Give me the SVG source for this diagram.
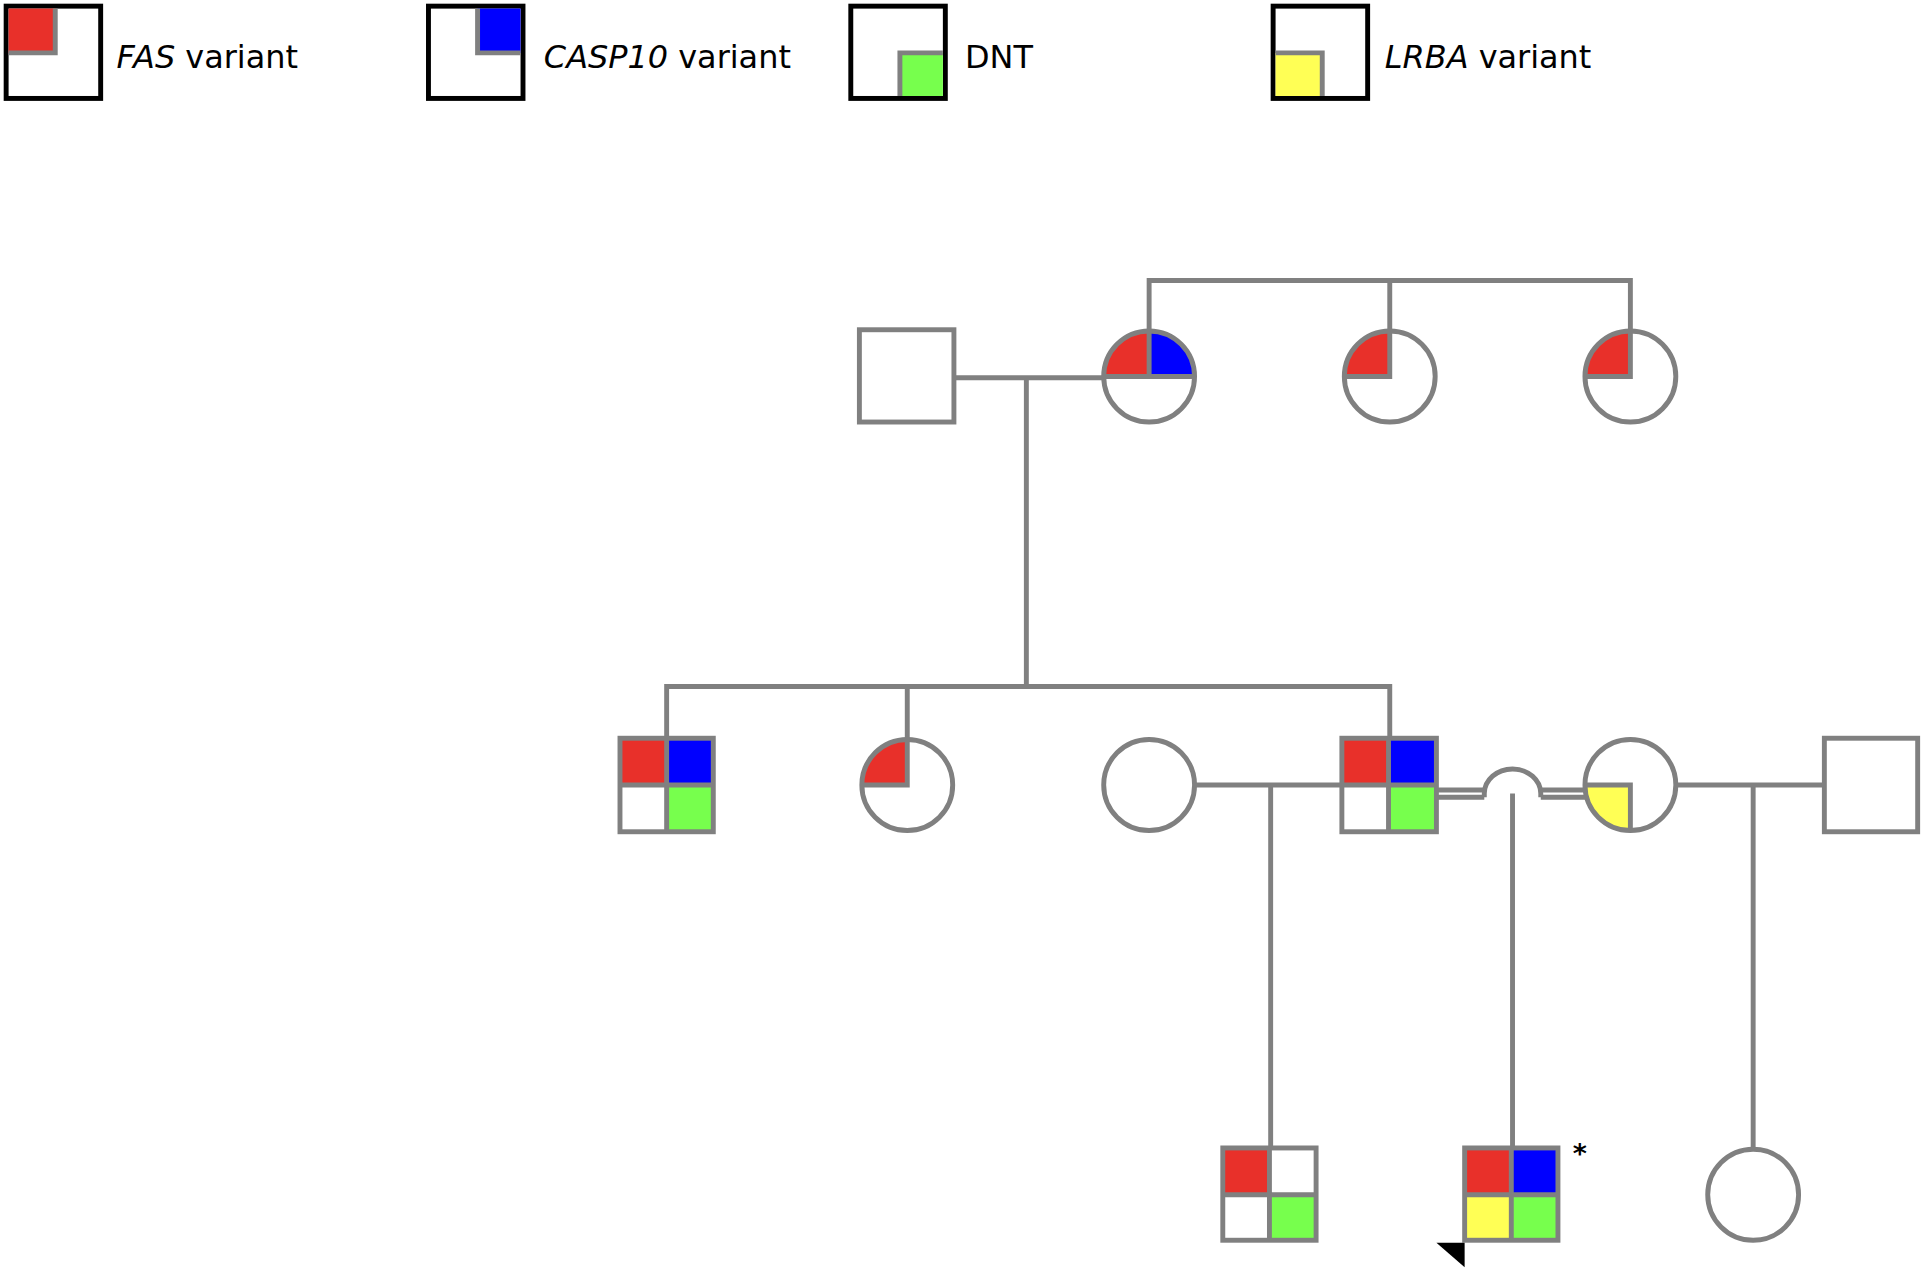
<svg xmlns="http://www.w3.org/2000/svg" width="1925" height="1271" viewBox="0 0 1925 1271">
<style>
.g{stroke:#808080;stroke-width:4;fill:none}
.w{fill:#fff}
.r{fill:#e8302a}.b{fill:#0000ff}.gr{fill:#77ff4d}.y{fill:#ffff55}
.lb{fill:#fff;stroke:#000;stroke-width:4}
.t{font-family:"DejaVu Sans",sans-serif;font-size:26px;fill:#000}
</style>
<rect width="1925" height="1271" fill="#fff"/>
<g transform="scale(1.2277,1.2304)">
<g id="legend">
<rect class="lb" x="5" y="5" width="77" height="75"/>
<path class="r" d="M7 7H45V43H7Z"/><path class="g" d="M45 7V43H7"/>
<text class="t" x="95" y="55"><tspan font-style="italic">FAS</tspan> variant</text>
<rect class="lb" x="349" y="5" width="77" height="75"/>
<path class="b" d="M389 7H424V43H389Z"/><path class="g" d="M389 7V43H424"/>
<text class="t" x="443" y="55"><tspan font-style="italic">CASP10</tspan> variant</text>
<rect class="lb" x="693" y="5" width="77" height="75"/>
<path class="gr" d="M733 43H768V78H733Z"/><path class="g" d="M733 78V43H768"/>
<text class="t" x="786" y="55">DNT</text>
<rect class="lb" x="1037" y="5" width="77" height="75"/>
<path class="y" d="M1039 43H1077V78H1039Z"/><path class="g" d="M1039 43H1077V78"/>
<text class="t" x="1128" y="55"><tspan font-style="italic">LRBA</tspan> variant</text>
</g>
<g id="connectors" class="g">
<path d="M936 269V228H1328V269M1132 228V269"/>
<path d="M777 307H899M836 307V558M543 600V558H1132V600M739 558V600"/>
<path d="M973 638H1093M1035 638V933"/>
<path d="M1170 642H1209M1170 648H1209M1255 642H1291M1255 648H1291M1209 648V645A23 20 0 0 1 1255 645V648"/>
<path d="M1232 645V933"/>
<path d="M1365 638H1486M1428 638V935"/>
</g>
<g id="g1_father"><rect class="g w" x="700" y="268" width="77" height="75"/></g>
<g id="g1_mother">
<circle class="w" cx="936" cy="306" r="37"/>
<path class="r" d="M936 306V269A37 37 0 0 0 899 306Z"/><path class="b" d="M936 306V269A37 37 0 0 1 973 306Z"/>
<circle class="g" cx="936" cy="306" r="37"/><path class="g" d="M899 306H973M936 269V306"/>
</g>
<g id="g1_aunt1"><circle class="w" cx="1132" cy="306" r="37"/><path class="r" d="M1132 306V269A37 37 0 0 0 1095 306Z"/><circle class="g" cx="1132" cy="306" r="37"/><path class="g" d="M1095 306H1132V269"/></g>
<g id="g1_aunt2"><circle class="w" cx="1328" cy="306" r="37"/><path class="r" d="M1328 306V269A37 37 0 0 0 1291 306Z"/><circle class="g" cx="1328" cy="306" r="37"/><path class="g" d="M1291 306H1328V269"/></g>
<g id="g2_brother">
<rect class="r" x="505" y="600" width="38" height="38"/><rect class="b" x="543" y="600" width="38" height="38"/><rect class="w" x="505" y="638" width="38" height="38"/><rect class="gr" x="543" y="638" width="38" height="38"/>
<rect class="g" x="505" y="600" width="76" height="76"/><path class="g" d="M543 600V676M505 638H581"/>
</g>
<g id="g2_sister"><circle class="w" cx="739" cy="638" r="37"/><path class="r" d="M739 638V601A37 37 0 0 0 702 638Z"/><circle class="g" cx="739" cy="638" r="37"/><path class="g" d="M702 638H739V601"/></g>
<g id="g2_wife1"><circle class="g w" cx="936" cy="638" r="37"/></g>
<g id="g2_father">
<rect class="r" x="1093" y="600" width="38" height="38"/><rect class="b" x="1131" y="600" width="39" height="38"/><rect class="w" x="1093" y="638" width="38" height="38"/><rect class="gr" x="1131" y="638" width="39" height="38"/>
<rect class="g" x="1093" y="600" width="77" height="76"/><path class="g" d="M1131 600V676M1093 638H1170"/>
</g>
<g id="g2_mother"><circle class="w" cx="1328" cy="638" r="37"/><path class="y" d="M1328 638V675A37 37 0 0 1 1291 638Z"/><circle class="g" cx="1328" cy="638" r="37"/><path class="g" d="M1291 638H1328V675"/></g>
<g id="g2_man"><rect class="g w" x="1486" y="600" width="76" height="76"/></g>
<g id="g3_son1">
<rect class="r" x="996" y="933" width="38" height="38"/><rect class="w" x="1034" y="933" width="38" height="38"/><rect class="w" x="996" y="971" width="38" height="37"/><rect class="gr" x="1034" y="971" width="38" height="37"/>
<rect class="g" x="996" y="933" width="76" height="75"/><path class="g" d="M1034 933V1008M996 971H1072"/>
</g>
<g id="g3_proband">
<rect class="r" x="1193" y="933" width="38" height="38"/><rect class="b" x="1231" y="933" width="38" height="38"/><rect class="y" x="1193" y="971" width="38" height="37"/><rect class="gr" x="1231" y="971" width="38" height="37"/>
<rect class="g" x="1193" y="933" width="76" height="75"/><path class="g" d="M1231 933V1008M1193 971H1269"/>
<text x="1281" y="945" style="font-family:'DejaVu Sans',sans-serif;font-size:22px;font-weight:bold">*</text>
<polygon points="1170,1010 1193,1010 1193,1030" fill="#000"/>
</g>
<g id="g3_daughter"><circle class="g w" cx="1428" cy="971" r="37"/></g>
</g>
</svg>
